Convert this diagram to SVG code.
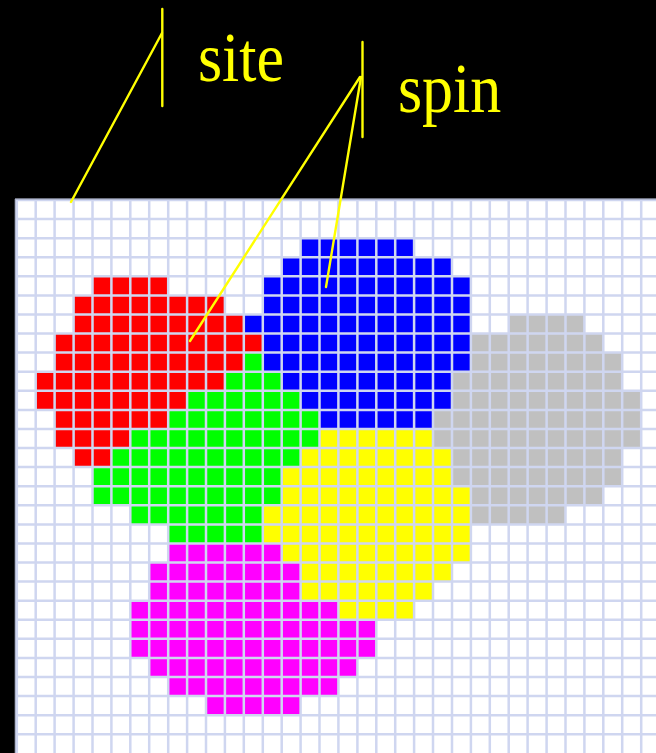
<svg xmlns="http://www.w3.org/2000/svg" width="656" height="753" viewBox="0 0 656 753">
<style>
.lbl{font-family:"Liberation Serif","Times New Roman",serif;font-size:62px;fill:#ffff00}
.ln{stroke:#ffff00;stroke-width:2.4;fill:none;stroke-linecap:round}
.red rect{fill:#ff0000}.grn rect{fill:#00ff00}.blu rect{fill:#0000ff}
.gry rect{fill:#c0c0c0}.yel rect{fill:#ffff00}.mag rect{fill:#ff00ff}
</style>
<rect width="656" height="753" fill="#000"/>
<rect x="15" y="199" width="641" height="554" fill="#fff"/>
<g id="red" class="red">
<rect x="92.5" y="276.3" width="75.7" height="19.1"/>
<rect x="73.6" y="295.4" width="151.4" height="19.1"/>
<rect x="73.6" y="314.5" width="170.3" height="19.1"/>
<rect x="54.6" y="333.6" width="208.1" height="19.1"/>
<rect x="54.6" y="352.6" width="189.2" height="19.1"/>
<rect x="35.7" y="371.7" width="189.2" height="19.1"/>
<rect x="35.7" y="390.8" width="151.4" height="19.1"/>
<rect x="54.6" y="409.9" width="113.5" height="19.1"/>
<rect x="54.6" y="429.0" width="75.7" height="19.1"/>
<rect x="73.6" y="448.0" width="37.8" height="19.1"/>
</g>
<g id="green" class="grn">
<rect x="243.8" y="352.6" width="18.9" height="19.1"/>
<rect x="224.9" y="371.7" width="56.8" height="19.1"/>
<rect x="187.1" y="390.8" width="113.5" height="19.1"/>
<rect x="168.2" y="409.9" width="151.4" height="19.1"/>
<rect x="130.3" y="429.0" width="189.2" height="19.1"/>
<rect x="111.4" y="448.0" width="189.2" height="19.1"/>
<rect x="92.5" y="467.1" width="189.2" height="19.1"/>
<rect x="92.5" y="486.2" width="189.2" height="19.1"/>
<rect x="130.3" y="505.3" width="132.4" height="19.1"/>
<rect x="168.2" y="524.4" width="94.6" height="19.1"/>
</g>
<g id="blue" class="blu">
<rect x="300.6" y="238.2" width="113.5" height="19.1"/>
<rect x="281.7" y="257.2" width="170.3" height="19.1"/>
<rect x="262.8" y="276.3" width="208.1" height="19.1"/>
<rect x="262.8" y="295.4" width="208.1" height="19.1"/>
<rect x="243.8" y="314.5" width="227.0" height="19.1"/>
<rect x="262.8" y="333.6" width="208.1" height="19.1"/>
<rect x="262.8" y="352.6" width="208.1" height="19.1"/>
<rect x="281.7" y="371.7" width="170.3" height="19.1"/>
<rect x="300.6" y="390.8" width="151.4" height="19.1"/>
<rect x="319.5" y="409.9" width="113.5" height="19.1"/>
</g>
<g id="grey" class="gry">
<rect x="508.7" y="314.5" width="75.7" height="19.1"/>
<rect x="470.9" y="333.6" width="132.4" height="19.1"/>
<rect x="470.9" y="352.6" width="151.4" height="19.1"/>
<rect x="452.0" y="371.7" width="170.3" height="19.1"/>
<rect x="452.0" y="390.8" width="189.2" height="19.1"/>
<rect x="433.0" y="409.9" width="208.1" height="19.1"/>
<rect x="433.0" y="429.0" width="208.1" height="19.1"/>
<rect x="452.0" y="448.0" width="170.3" height="19.1"/>
<rect x="452.0" y="467.1" width="170.3" height="19.1"/>
<rect x="470.9" y="486.2" width="132.4" height="19.1"/>
<rect x="470.9" y="505.3" width="94.6" height="19.1"/>
</g>
<g id="yellow" class="yel">
<rect x="319.5" y="429.0" width="113.5" height="19.1"/>
<rect x="300.6" y="448.0" width="151.4" height="19.1"/>
<rect x="281.7" y="467.1" width="170.3" height="19.1"/>
<rect x="281.7" y="486.2" width="189.2" height="19.1"/>
<rect x="262.8" y="505.3" width="208.1" height="19.1"/>
<rect x="262.8" y="524.4" width="208.1" height="19.1"/>
<rect x="281.7" y="543.4" width="189.2" height="19.1"/>
<rect x="300.6" y="562.5" width="151.4" height="19.1"/>
<rect x="300.6" y="581.6" width="132.4" height="19.1"/>
<rect x="338.4" y="600.7" width="75.7" height="19.1"/>
</g>
<g id="magenta" class="mag">
<rect x="168.2" y="543.4" width="113.5" height="19.1"/>
<rect x="149.2" y="562.5" width="151.4" height="19.1"/>
<rect x="149.2" y="581.6" width="151.4" height="19.1"/>
<rect x="130.3" y="600.7" width="208.1" height="19.1"/>
<rect x="130.3" y="619.8" width="246.0" height="19.1"/>
<rect x="130.3" y="638.8" width="246.0" height="19.1"/>
<rect x="149.2" y="657.9" width="208.1" height="19.1"/>
<rect x="168.2" y="677.0" width="170.3" height="19.1"/>
<rect x="206.0" y="696.1" width="94.6" height="19.1"/>
</g>
<g id="grid" fill="none" stroke="#cfd6f0" stroke-width="2.5">
<path d="M16.8 199V753M35.7 199V753M54.6 199V753M73.6 199V753M92.5 199V753M111.4 199V753M130.3 199V753M149.2 199V753M168.2 199V753M187.1 199V753M206 199V753M224.9 199V753M243.8 199V753M262.8 199V753M281.7 199V753M300.6 199V753M319.5 199V753M338.4 199V753M357.4 199V753M376.3 199V753M395.2 199V753M414.1 199V753M433 199V753M452 199V753M470.9 199V753M489.8 199V753M508.7 199V753M527.6 199V753M546.6 199V753M565.5 199V753M584.4 199V753M603.3 199V753M622.2 199V753M641.2 199V753"/>
<path d="M15 200H656M15 219.1H656M15 238.2H656M15 257.2H656M15 276.3H656M15 295.4H656M15 314.5H656M15 333.6H656M15 352.6H656M15 371.7H656M15 390.8H656M15 409.9H656M15 429H656M15 448H656M15 467.1H656M15 486.2H656M15 505.3H656M15 524.4H656M15 543.4H656M15 562.5H656M15 581.6H656M15 600.7H656M15 619.8H656M15 638.8H656M15 657.9H656M15 677H656M15 696.1H656M15 715.2H656M15 734.2H656"/>
<path d="M15.3 199V753M15 199.2H656" stroke="#a8aec6" stroke-width="1.2"/>
</g>
<g id="connectors">
<path class="ln" d="M162.3 9V106"/>
<path class="ln" d="M162 33L71 202"/>
<path class="ln" d="M362.5 42V137"/>
<path class="ln" d="M360 77L190 341"/>
<path class="ln" d="M361 77L326 287"/>
</g>
<g id="site"><text class="lbl" transform="translate(198,81) scale(1,1.12)">site</text></g>
<g id="spin"><text class="lbl" transform="translate(398,112) scale(1,1.12)">spin</text></g>
</svg>
